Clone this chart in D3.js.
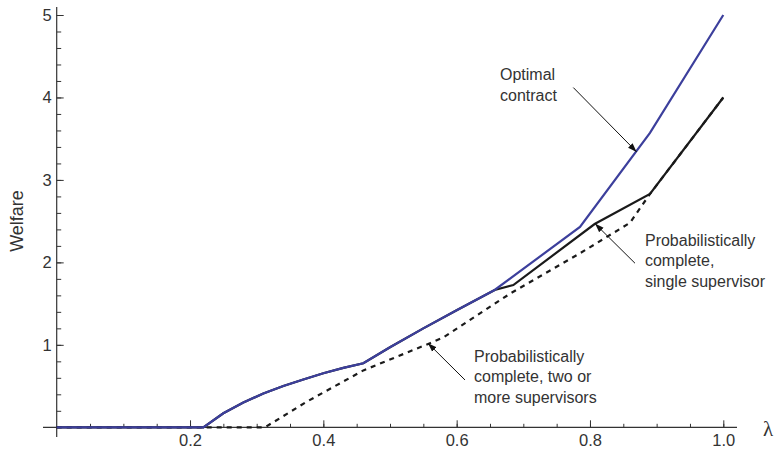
<!DOCTYPE html>
<html>
<head>
<meta charset="utf-8">
<script src="https://cdn.jsdelivr.net/npm/d3@7"></script>
<style>
  body { margin: 0; background: #fff; }
  svg { display: block; font-family: "Liberation Sans", Arial, Helvetica, sans-serif; }
  .tick text { fill: #333; }
</style>
</head>
<body>
<svg id="chart" width="778" height="454"></svg>
<script>
// curves (lambda, welfare)
var optimalX = [0, 0.22, 0.25, 0.28, 0.31, 0.34, 0.37, 0.40, 0.43, 0.46, 0.50, 0.55, 0.60, 0.657, 0.785, 0.89, 1.0];
var optimalY = [0, 0, 0.17, 0.30, 0.41, 0.50, 0.58, 0.655, 0.72, 0.776, 0.97, 1.2, 1.42, 1.665, 2.43, 3.57, 5.0];

var singleX = [0, 0.22, 0.25, 0.28, 0.31, 0.34, 0.37, 0.40, 0.43, 0.46, 0.50, 0.55, 0.60, 0.657, 0.685, 0.807, 0.89, 1.0];
var singleY = [0, 0, 0.17, 0.30, 0.41, 0.50, 0.58, 0.655, 0.72, 0.776, 0.97, 1.2, 1.42, 1.665, 1.725, 2.465, 2.83, 4.0];

var multiX = [0, 0.3125, 0.375, 0.46, 0.56, 0.58, 0.68, 0.785, 0.86, 0.89, 1.0];
var multiY = [0, 0, 0.31, 0.69, 1.02, 1.09, 1.62, 2.11, 2.48, 2.83, 4.0];

var xMajor = [0.2, 0.4, 0.6, 0.8, 1.0];
var yMajor = [1, 2, 3, 4, 5];

// annotation labels + arrows (arrow from -> to, in data units)
var notes = [
    { lines: ["Optimal", "contract"], at: [0.665, 4.21], from: [0.775, 4.12], to: [0.87, 3.34] },
    { lines: ["Probabilistically", "complete,", "single supervisor"], at: [0.8825, 2.2], from: [0.8675, 1.99], to: [0.8075, 2.47] },
    { lines: ["Probabilistically", "complete, two or", "more supervisors"], at: [0.626, 0.795], from: [0.6125, 0.574], to: [0.557, 1.02] }
];

var svg = d3.select("#chart");

var x = d3.scaleLinear().domain([0, 1]).range([56.7, 723.3]);
var y = d3.scaleLinear().domain([0, 5]).range([427.3, 15]);

var axisColor = "#333";

// x axis
var gx = svg.append("g").attr("transform", "translate(0," + y(0) + ")");
gx.call(d3.axisBottom(x).tickValues(d3.range(1, 21).map(function (i) { return i * 0.05; }))
    .tickSizeInner(-3.5).tickSizeOuter(0).tickFormat(""));
gx.call(function (g) { g.select(".domain").remove(); });
var gx2 = svg.append("g").attr("transform", "translate(0," + y(0) + ")");
gx2.call(d3.axisBottom(x).tickValues(xMajor).tickSizeInner(-7).tickSizeOuter(0)
    .tickPadding(7).tickFormat(d3.format(".1f")));
gx2.select(".domain").remove();
gx2.selectAll("text").attr("font-size", 16.5).attr("font-family", null);
svg.selectAll(".tick line").attr("stroke", axisColor);
svg.append("line").attr("x1", 43).attr("x2", 737).attr("y1", y(0)).attr("y2", y(0))
    .attr("stroke", axisColor).attr("stroke-width", 1.2);

// y axis
var gy = svg.append("g").attr("transform", "translate(" + x(0) + ",0)");
gy.call(d3.axisLeft(y).tickValues(d3.range(1, 26).map(function (i) { return i * 0.2; }))
    .tickSizeInner(-4.5).tickSizeOuter(0).tickFormat(""));
gy.select(".domain").remove();
var gy2 = svg.append("g").attr("transform", "translate(" + x(0) + ",0)");
gy2.call(d3.axisLeft(y).tickValues(yMajor).tickSizeInner(-7).tickSizeOuter(0)
    .tickPadding(5).tickFormat(d3.format("d")));
gy2.select(".domain").remove();
gy2.selectAll("text").attr("font-size", 16.5).attr("font-family", null);
svg.selectAll(".tick line").attr("stroke", axisColor);
svg.append("line").attr("x1", x(0)).attr("x2", x(0)).attr("y1", 7).attr("y2", 437)
    .attr("stroke", axisColor).attr("stroke-width", 1.2);

// axis titles
svg.append("text").attr("x", 763).attr("y", 436).attr("font-size", 21)
    .attr("font-family", "Liberation Serif, Times New Roman, serif").attr("fill", "#333").text("λ");
svg.append("text").attr("transform", "translate(23,221) rotate(-90)").attr("text-anchor", "middle")
    .attr("font-size", 18).attr("fill", "#333").text("Welfare");

// curves
var line = d3.line().x(function (d) { return x(d[0]); }).y(function (d) { return y(d[1]); });
function pairs(xs, ys) { return xs.map(function (v, i) { return [v, ys[i]]; }); }

svg.append("path").datum(pairs(multiX, multiY)).attr("d", line)
    .attr("fill", "none").attr("stroke", "#1a1a1a").attr("stroke-width", 2.2)
    .attr("stroke-dasharray", "5,5");
svg.append("path").datum(pairs(singleX, singleY)).attr("d", line)
    .attr("fill", "none").attr("stroke", "#1a1a1a").attr("stroke-width", 2.2);
svg.append("path").datum(pairs(optimalX, optimalY)).attr("d", line)
    .attr("fill", "none").attr("stroke", "#3c3f9c").attr("stroke-width", 2.2);

// arrows
svg.append("defs").append("marker").attr("id", "head")
    .attr("viewBox", "0 0 10 10").attr("refX", 10).attr("refY", 5)
    .attr("markerWidth", 9).attr("markerHeight", 9).attr("markerUnits", "userSpaceOnUse")
    .attr("orient", "auto")
    .append("path").attr("d", "M0,1.5L10,5L0,8.5Z").attr("fill", "#111");

notes.forEach(function (n) {
    svg.append("line")
        .attr("x1", x(n.from[0])).attr("y1", y(n.from[1]))
        .attr("x2", x(n.to[0])).attr("y2", y(n.to[1]))
        .attr("stroke", "#111").attr("stroke-width", 1).attr("marker-end", "url(#head)");
    var t = svg.append("text").attr("x", x(n.at[0])).attr("y", y(n.at[1]))
        .attr("font-size", 16).attr("fill", "#333");
    n.lines.forEach(function (s, i) {
        t.append("tspan").attr("x", x(n.at[0])).attr("dy", i ? 20.5 : 0).text(s);
    });
});
</script>
</body>
</html>
